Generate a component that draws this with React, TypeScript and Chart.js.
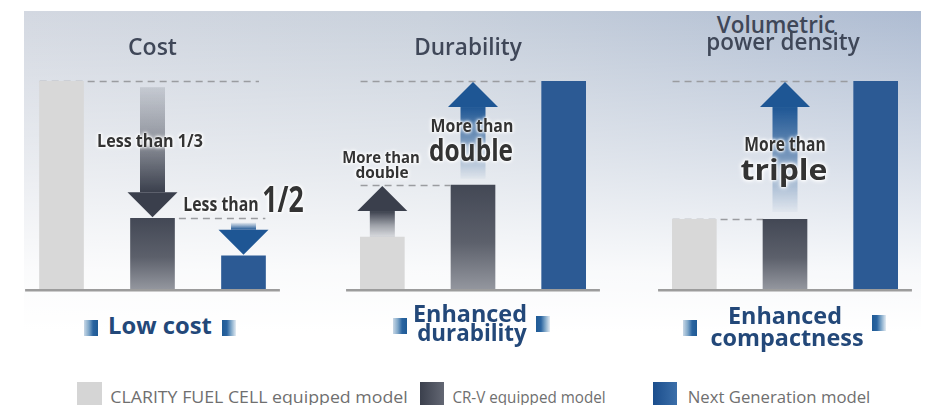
import React, { useEffect, useLayoutEffect, useRef } from "react";
import { Chart, registerables } from "chart.js";
Chart.register(...registerables);

// ---------- data ----------
const MODELS = ["CLARITY FUEL CELL equipped model", "CR-V equipped model", "Next Generation model"];
const COST_VALUES = [100, 34, 16];
const DURABILITY_VALUES = [25, 50, 100];
const DENSITY_VALUES = [33.5, 33.5, 100];

// arrows: category index, start value, tip value
const COST_ARROWS = [
  { index: 1, from: 97, to: 34.5, tone: "gray" },
  { index: 2, from: 32, to: 16.5, tone: "blue" },
];
const DURABILITY_ARROWS = [
  { index: 0, from: 25, to: 49.5, tone: "gray" },
  { index: 1, from: 53, to: 99.5, tone: "blue" },
];
const DENSITY_ARROWS = [{ index: 1, from: 37, to: 99.5, tone: "blue" }];

// dashed reference lines: value, category span
const COST_GUIDES = [
  { value: 100, from: -0.24, to: 2.17 },
  { value: 34, from: 1.29, to: 2.24 },
];
const DURABILITY_GUIDES = [
  { value: 100, from: -0.24, to: 1.71 },
  { value: 50, from: -0.24, to: 0.75 },
];
const DENSITY_GUIDES = [
  { value: 100, from: -0.24, to: 1.73 },
  { value: 33.5, from: -0.24, to: 0.76 },
];

// ---------- helpers ----------
const TONES: Record<string, [number, number, number, number]> = {
  gray: [58, 63, 76, 0.14],
  blue: [30, 86, 148, 0.03],
};

function makePlugin(guides: any[], arrows: any[]) {
  return {
    id: "panelDecor",
    beforeDatasetsDraw(chart: any) {
      const { ctx, scales } = chart;
      const x = scales.x;
      const y = scales.y;
      ctx.save();
      ctx.strokeStyle = "#9c9c9c";
      ctx.lineWidth = 2.5;
      const yb = y.getPixelForValue(0) + 1.3;
      ctx.beginPath();
      ctx.moveTo(x.getPixelForValue(-0.4), yb);
      ctx.lineTo(x.getPixelForValue(2.4), yb);
      ctx.stroke();
      ctx.setLineDash([7, 5]);
      ctx.lineWidth = 1.5;
      ctx.strokeStyle = "#9a9ca0";
      for (const g of guides) {
        const py = Math.round(y.getPixelForValue(g.value)) + 0.5;
        ctx.beginPath();
        ctx.moveTo(x.getPixelForValue(g.from), py);
        ctx.lineTo(x.getPixelForValue(g.to), py);
        ctx.stroke();
      }
      ctx.restore();
    },
    afterDatasetsDraw(chart: any) {
      const { ctx, scales } = chart;
      const x = scales.x;
      const y = scales.y;
      for (const a of arrows) {
        const [r, g, b, a0] = TONES[a.tone];
        const px = x.getPixelForValue(a.index);
        const yFrom = y.getPixelForValue(a.from);
        const yTo = y.getPixelForValue(a.to);
        const dir = yTo < yFrom ? -1 : 1;
        const headLen = 25;
        const hw = 25;
        const sw = 12.5;
        const yBase = yTo - dir * headLen;
        ctx.save();
        const grad = ctx.createLinearGradient(0, yFrom, 0, yBase);
        grad.addColorStop(0, `rgba(${r},${g},${b},${a0})`);
        grad.addColorStop(0.45, `rgba(${r},${g},${b},0.45)`);
        grad.addColorStop(1, `rgba(${r},${g},${b},1)`);
        ctx.fillStyle = grad;
        ctx.fillRect(px - sw, Math.min(yFrom, yBase), sw * 2, Math.abs(yBase - yFrom));
        ctx.fillStyle = `rgb(${r},${g},${b})`;
        ctx.beginPath();
        ctx.moveTo(px - hw, yBase);
        ctx.lineTo(px + hw, yBase);
        ctx.lineTo(px, yTo);
        ctx.closePath();
        ctx.fill();
        ctx.restore();
      }
    },
  };
}

function barColor(c: any) {
  const i = c.dataIndex;
  if (i === 0) return "#d8d8d8";
  if (i === 2) return "#2c5a94";
  const chart = c.chart;
  if (!chart.chartArea || !chart.scales.y) return "#4a4f5b";
  const y = chart.scales.y;
  const top = y.getPixelForValue(c.raw as number);
  const bottom = y.getPixelForValue(0);
  const g = chart.ctx.createLinearGradient(0, top, 0, bottom);
  g.addColorStop(0, "#434855");
  g.addColorStop(0.55, "#5c606b");
  g.addColorStop(1, "#93969e");
  return g;
}

function Panel({ left, width, values, guides, arrows }: any) {
  const ref = useRef<HTMLCanvasElement>(null);
  useEffect(() => {
    if (!ref.current) return;
    const chart = new Chart(ref.current, {
      type: "bar",
      data: {
        labels: MODELS,
        datasets: [{ data: values, backgroundColor: barColor, borderWidth: 0, barThickness: 44 } as any],
      },
      options: {
        animation: false,
        responsive: true,
        maintainAspectRatio: false,
        layout: { padding: { top: 21, bottom: 11, left: 0, right: 0 } },
        scales: {
          x: { display: false, grid: { display: false } },
          y: { display: false, min: 0, max: 100, grid: { display: false } },
        },
        plugins: { legend: { display: false }, tooltip: { enabled: false } },
        events: [],
      },
      plugins: [makePlugin(guides, arrows)],
    });
    return () => chart.destroy();
  }, []);
  return (
    <div style={{ position: "absolute", left, top: 60, width, height: 240 }}>
      <canvas ref={ref} />
    </div>
  );
}

function Txt({ cx, base, size, weight = 700, color, w, halo = false, children }: any) {
  const ref = useRef<HTMLDivElement>(null);
  useLayoutEffect(() => {
    const fit = () => {
      const el = ref.current;
      if (!el) return;
      const m = el.offsetWidth;
      if (m > 0) el.style.transform = `translateX(-50%) scaleX(${w / m})`;
    };
    fit();
    (document as any).fonts?.ready?.then(fit);
  }, [w]);
  return (
    <div
      ref={ref}
      style={{
        position: "absolute",
        left: cx,
        top: base - 0.888 * size,
        fontFamily: '"Open Sans", sans-serif',
        fontSize: size,
        fontWeight: weight,
        lineHeight: `${size}px`,
        color,
        whiteSpace: "nowrap",
        transform: "translateX(-50%)",
        textShadow: halo ? "0 0 2px #fff, 0 0 3px #fff, 0 0 4px #fff, 0 0 6px #fff" : undefined,
      }}
    >
      {children}
    </div>
  );
}

function Icon({ left, top, flip }: any) {
  const bg = flip
    ? "linear-gradient(to right, #1f5a95 0%, #2a64a0 35%, #7ea6c8 65%, #e4ecf3 100%)"
    : "linear-gradient(to right, #c9d8e6 0%, #7ea6c8 35%, #2a64a0 65%, #1f5a95 100%)";
  return <div style={{ position: "absolute", left, top, width: 14, height: 16, background: bg }} />;
}

const TITLE = "#3f4758";
const NAVY = "#234879";
const NOTE = "#333333";
const LEG = "#6f6f6f";

export default function App() {
  return (
    <div style={{ position: "fixed", left: 0, top: 0, width: 925, height: 405, background: "#fff", overflow: "hidden" }}>
      <div
        style={{
          position: "absolute",
          left: 24,
          top: 11,
          width: 897,
          height: 394,
          background:
            "linear-gradient(to bottom, rgba(255,255,255,0) 0px, rgba(255,255,255,0.5) 150px, rgba(255,255,255,0.9) 260px, #fff 320px), linear-gradient(to right, #d3d8e1 0%, #c9d1dc 45%, #aebcd2 100%)",
        }}
      />
      <Panel left={16} width={273} values={COST_VALUES} guides={COST_GUIDES} arrows={COST_ARROWS} />
      <Panel left={337} width={272} values={DURABILITY_VALUES} guides={DURABILITY_GUIDES} arrows={DURABILITY_ARROWS} />
      <Panel left={649} width={272} values={DENSITY_VALUES} guides={DENSITY_GUIDES} arrows={DENSITY_ARROWS} />

      {/* titles */}
      <Txt cx={152.5} base={55} size={23} weight={600} color={TITLE} w={49}>Cost</Txt>
      <Txt cx={468} base={55} size={23} weight={600} color={TITLE} w={108}>Durability</Txt>
      <Txt cx={776} base={33} size={23} weight={600} color={TITLE} w={118}>Volumetric</Txt>
      <Txt cx={782.5} base={50} size={23} weight={600} color={TITLE} w={153}>power density</Txt>

      {/* annotations */}
      <Txt cx={150} base={147} size={17} color={NOTE} w={106} halo>Less than 1/3</Txt>
      <Txt cx={220.5} base={212} size={19} color={NOTE} w={75} halo>Less than</Txt>
      <Txt cx={282.5} base={212} size={35} color={NOTE} w={41} halo>1/2</Txt>
      <Txt cx={381} base={163} size={16} color={NOTE} w={78} halo>More than</Txt>
      <Txt cx={381.5} base={178} size={16} color={NOTE} w={53} halo>double</Txt>
      <Txt cx={471.5} base={132} size={17} color={NOTE} w={83} halo>More than</Txt>
      <Txt cx={471} base={162} size={30} color={NOTE} w={84} halo>double</Txt>
      <Txt cx={784.5} base={152} size={20} color={NOTE} w={81} halo>More than</Txt>
      <Txt cx={783.5} base={180} size={29} color={NOTE} w={87} halo>triple</Txt>

      {/* bottom labels */}
      <Icon left={84} top={320} />
      <Txt cx={160} base={334} size={24} color={NAVY} w={104}>Low cost</Txt>
      <Icon left={222} top={320} flip />
      <Icon left={393} top={318} />
      <Txt cx={470} base={322.7} size={24} color={NAVY} w={114}>Enhanced</Txt>
      <Txt cx={472} base={341.7} size={24} color={NAVY} w={110}>durability</Txt>
      <Icon left={536} top={316} flip />
      <Icon left={683} top={320} />
      <Txt cx={785} base={324} size={24} color={NAVY} w={114}>Enhanced</Txt>
      <Txt cx={786.5} base={346} size={24} color={NAVY} w={153}>compactness</Txt>
      <Icon left={872} top={315} flip />

      {/* legend */}
      <div style={{ position: "absolute", left: 77, top: 382, width: 25, height: 23, background: "#d5d5d5" }} />
      <Txt cx={110 + 297 / 2} base={403} size={16} weight={400} color={LEG} w={297}>{MODELS[0]}</Txt>
      <div style={{ position: "absolute", left: 420, top: 382, width: 24, height: 23, background: "linear-gradient(to right, #3b404d, #636773)" }} />
      <Txt cx={452 + 153 / 2} base={403} size={16} weight={400} color={LEG} w={153}>{MODELS[1]}</Txt>
      <div style={{ position: "absolute", left: 653, top: 382, width: 24, height: 23, background: "linear-gradient(to right, #1b4e8d, #3c6fa9)" }} />
      <Txt cx={687 + 183 / 2} base={403} size={16} weight={400} color={LEG} w={183}>{MODELS[2]}</Txt>
    </div>
  );
}
